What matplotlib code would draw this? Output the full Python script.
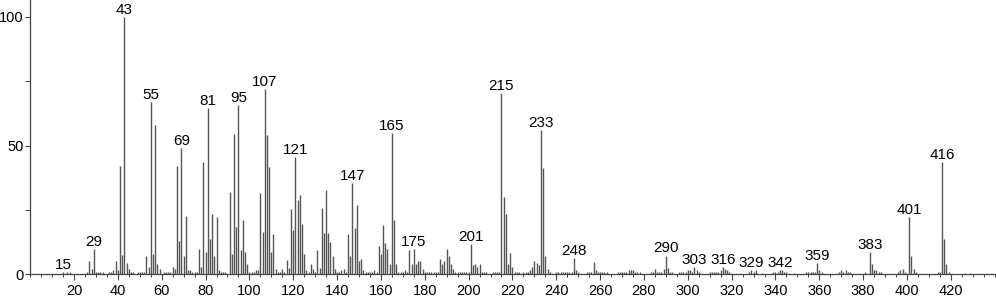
import numpy as np
import matplotlib
matplotlib.use('Agg')
from matplotlib import pyplot as plt
from matplotlib.ticker import MultipleLocator

# m/z values and relative intensities
mz = [15, 17, 18, 26, 27, 28, 29, 30, 31, 32, 33, 36, 37, 38, 39, 40,
      41, 42, 43, 44, 45, 46, 47, 49, 50, 51, 52, 53, 54, 55, 56, 57,
      58, 59, 61, 62, 63, 64, 65, 66, 67, 68, 69, 70, 71, 72, 73, 74,
      75, 76, 77, 78, 79, 80, 81, 82, 83, 84, 85, 86, 87, 88, 89, 91,
      92, 93, 94, 95, 96, 97, 98, 99, 100, 101, 102, 103, 104, 105, 106, 107,
      108, 109, 110, 111, 112, 113, 114, 115, 116, 117, 118, 119, 120, 121, 122, 123,
      124, 125, 126, 127, 128, 129, 130, 131, 132, 133, 134, 135, 136, 137, 138, 139,
      140, 141, 142, 143, 144, 145, 146, 147, 148, 149, 150, 151, 152, 153, 154, 155,
      156, 157, 158, 159, 160, 161, 162, 163, 164, 165, 166, 167, 168, 169, 170, 171,
      172, 173, 174, 175, 176, 177, 178, 179, 180, 181, 182, 183, 184, 185, 186, 187,
      188, 189, 190, 191, 192, 193, 194, 195, 196, 197, 198, 199, 200, 201, 202, 203,
      204, 205, 206, 207, 208, 211, 212, 213, 214, 215, 216, 217, 218, 219, 220, 221,
      222, 223, 225, 226, 227, 228, 229, 230, 231, 232, 233, 234, 235, 236, 237, 240,
      241, 242, 243, 244, 245, 246, 247, 248, 249, 250, 254, 255, 256, 257, 258, 259,
      260, 261, 262, 263, 268, 269, 270, 271, 272, 273, 274, 275, 276, 277, 278, 283,
      284, 285, 286, 287, 288, 289, 290, 291, 292, 293, 296, 297, 298, 299, 300, 301,
      302, 303, 304, 305, 310, 311, 312, 313, 314, 315, 316, 317, 318, 319, 328, 329,
      330, 331, 339, 340, 341, 342, 343, 344, 345, 354, 355, 356, 357, 358, 359, 360,
      361, 369, 370, 371, 372, 373, 374, 381, 383, 384, 385, 386, 387, 388, 396, 397,
      398, 399, 401, 402, 403, 404, 414, 415, 416, 417, 418, 419]

intensity = [1, 1, 1, 1, 5, 2, 10, 1, 1, 1, 0.8, 1, 1, 1.5, 5, 1.5,
             42, 7.5, 100, 4.3, 2, 1, 1, 1, 1, 1, 1, 7, 3, 67, 8, 58,
             4, 2, 1, 1, 1, 1, 3, 2, 42, 13, 49, 7, 22.7, 1.5, 1.5, 1,
             1, 1, 10, 3, 43.5, 8.7, 64.6, 13.7, 23.3, 7, 22.3, 1.5, 1, 1, 1, 32,
             8, 54.4, 18.3, 65.8, 9.3, 21, 8.5, 4, 1, 1, 1, 1.5, 1.5, 31.6, 16.4, 71.9,
             54.3, 41.7, 8.6, 15.5, 2, 1, 1, 2, 1, 5.6, 2.5, 25.4, 17.2, 45.7, 28.9, 31,
             19.5, 8, 1.5, 1, 4, 2, 1, 9.3, 2.5, 25.8, 16, 32.6, 16, 12.5, 7, 2,
             1, 1, 1.5, 2, 1, 15.5, 7, 35.5, 18, 27, 5, 6, 1.5, 1, 1, 1,
             1, 1.5, 1, 11, 8, 19.3, 12, 10, 4, 55, 21.2, 4, 1, 1, 1, 1.5,
             1, 9.3, 4, 9.7, 4, 5, 5, 2, 1, 1, 1, 1, 1, 1, 1, 6,
             4, 5, 9.7, 7, 4, 2, 1, 1, 1, 1, 1, 1, 1, 11.8, 3.5, 4,
             3, 4, 1, 1, 1, 1, 1, 1, 1, 70.6, 30.2, 23.3, 4, 8.2, 3, 1,
             1, 1, 1, 1, 1, 1.5, 3, 5, 4.5, 3.5, 56, 41.4, 7, 2, 1, 1,
             1, 1, 1, 1, 1, 1, 1, 6.3, 1.5, 1, 1, 1, 1, 4.6, 1.5, 1,
             1, 1, 1, 1, 1, 1, 1, 1, 1, 1.5, 1.5, 1.5, 1, 1, 1, 1,
             1, 2, 1, 1, 1, 2, 7.3, 2.5, 1, 1, 1, 1, 1, 1, 1.5, 1.5,
             1, 3, 1.5, 1, 1, 1, 1, 1, 1, 1.5, 3, 2, 1.5, 1, 1, 1.5,
             1, 1.5, 1, 1, 1, 1.5, 1.5, 1, 1, 1, 1, 1, 1, 1, 4.3, 1.5,
             1, 1, 1.5, 1, 1.5, 1, 1, 1, 8.5, 4, 1.5, 1.5, 1, 1, 1, 1.5,
             2, 1, 22.3, 7, 2, 1, 1, 1, 43.6, 13.8, 4, 1]

labeled = [15, 29, 43, 55, 69, 81, 95, 107, 121, 147, 165, 175, 201,
           215, 233, 248, 290, 303, 316, 329, 342, 359, 383, 401, 416]

plt.rcParams['font.family'] = ['Liberation Sans', 'DejaVu Sans']
plt.rcParams['font.size'] = 11

fig = plt.figure(figsize=(9.96, 2.99), dpi=100)
ax = fig.add_axes([0.0303, 0.0826, 0.9697, 0.9174])

ax.vlines(mz, 0, intensity, color='#555555', lw=1.0)

lookup = dict(zip(mz, intensity))
for m in labeled:
  ax.annotate(str(m), (m, lookup[m]), xytext=(0, 2.2), textcoords='offset points',
              ha='center', va='baseline', fontsize=11)

ax.set_xlim(0, 440.6)
ax.set_ylim(0, 106.6)
ax.xaxis.set_minor_locator(MultipleLocator(5))
ax.yaxis.set_major_locator(MultipleLocator(50))
ax.yaxis.set_minor_locator(MultipleLocator(25))
ax.set_xticks([t for t in range(20, 440, 20)])

ax.spines['top'].set_visible(False)
ax.spines['right'].set_visible(False)
for s in ['left', 'bottom']:
  ax.spines[s].set_color('#444444')
  ax.spines[s].set_linewidth(0.9)

ax.tick_params(axis='x', which='major', length=4.5, width=0.8, pad=2.5,
               color='#444444', labelsize=10.5)
ax.tick_params(axis='x', which='minor', length=2.5, width=0.7, color='#444444')
ax.tick_params(axis='y', which='major', length=3.5, width=0.8, pad=1.0,
               color='#444444', labelsize=10.5)
ax.tick_params(axis='y', which='minor', length=3.5, width=0.7, color='#444444')

fig.savefig('out.png', dpi=100)
